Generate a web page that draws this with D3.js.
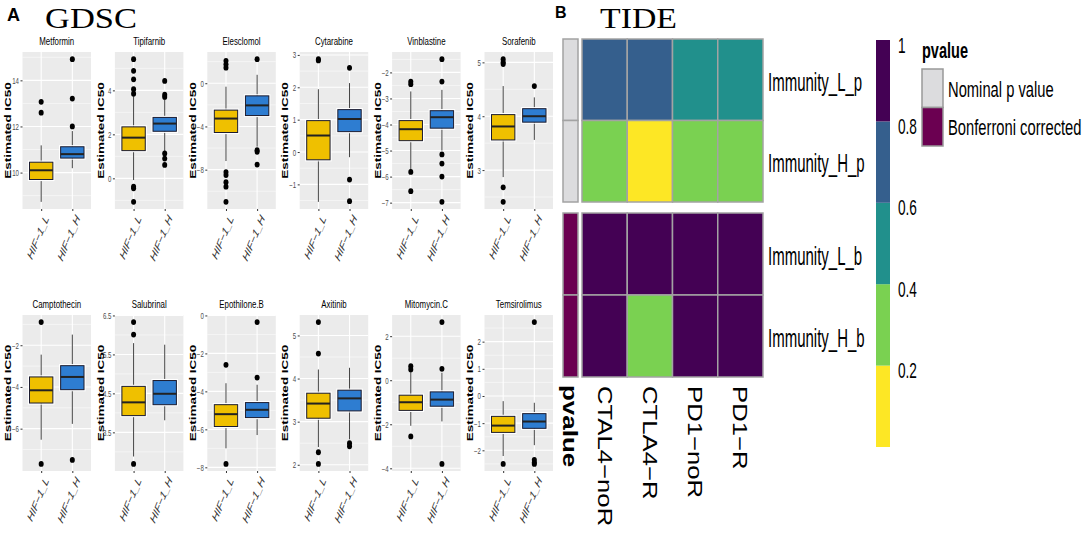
<!DOCTYPE html>
<html><head><meta charset="utf-8">
<script src="https://cdnjs.cloudflare.com/ajax/libs/d3/7.8.5/d3.min.js"></script>
<style>
html,body{margin:0;padding:0;background:#fff;}
svg{display:block;font-family:"Liberation Sans",Arial,sans-serif;}
</style></head>
<body>
<svg id="chart" width="1084" height="533"></svg>
<script>
// ---------- Panel A data (GDSC) ----------
const groups = ["HIF\u22121_L", "HIF\u22121_H"];
const drugs = ["Metformin","Tipifarnib","Elesclomol","Cytarabine","Vinblastine","Sorafenib",
               "Camptothecin","Salubrinal","Epothilone.B","Axitinib","Mitomycin.C","Temsirolimus"];
// [lower whisker, Q1, median, Q3, upper whisker]
const statsL = [
  [8.73, 9.70, 10.10, 10.45, 11.18],
  [-0.08, 1.26, 1.85, 2.34, 3.80],
  [-7.20, -4.56, -3.27, -2.49, -0.32],
  [-1.54, -0.24, 0.51, 0.97, 1.94],
  [-5.75, -4.62, -4.18, -3.85, -2.73],
  [2.87, 3.56, 3.81, 4.03, 4.56],
  [-6.53, -4.77, -4.16, -3.52, -2.45],
  [2.88, 3.93, 4.27, 4.68, 5.79],
  [-7.00, -5.85, -5.20, -4.70, -3.57],
  [2.41, 3.08, 3.42, 3.66, 4.21],
  [-2.07, -1.37, -1.00, -0.68, 0.41],
  [-2.21, -1.34, -1.09, -0.75, -0.19]
];
const statsH = [
  [10.19, 10.63, 10.80, 11.12, 11.80],
  [1.22, 2.14, 2.49, 2.77, 3.60],
  [-5.87, -2.99, -2.05, -1.17, 0.78],
  [-0.16, 0.63, 1.02, 1.31, 2.13],
  [-5.00, -4.14, -3.72, -3.47, -2.67],
  [3.56, 3.89, 4.00, 4.14, 4.35],
  [-5.77, -4.13, -3.52, -2.98, -1.49],
  [3.81, 4.21, 4.49, 4.83, 5.75],
  [-6.30, -5.38, -4.97, -4.59, -3.65],
  [2.59, 3.25, 3.54, 3.73, 4.25],
  [-1.87, -1.18, -0.88, -0.53, 0.34],
  [-1.81, -1.19, -0.94, -0.65, -0.25]
];
const outliersL = [
  [12.60, 13.07],
  [-0.38, -0.45, -1.07, 3.85, 4.05, 4.50, 4.89, 5.42],
  [2.07, 1.75, 1.44, -8.22, -8.50, -9.16, -9.57, -10.98],
  [2.83, 2.87],
  [-2.35, -2.45, -5.82, -6.56],
  [5.06, 4.97, 5.00, 2.68, 2.41],
  [-0.89, -7.69],
  [6.33, 6.01, 2.69],
  [-2.60, -7.82],
  [5.31, 4.58, 2.29, 2.02],
  [0.64, 0.49, -2.55],
  [-2.50]
];
const outliersH = [
  [12.00, 13.21, 14.92],
  [3.70, 3.80, 4.43, 1.13, 0.90, 0.61],
  [2.23, -6.20, -6.35, -7.53],
  [2.60, -0.85, -1.52],
  [-1.49, -2.35, -5.15, -5.50, -6.00, -6.97],
  [4.56],
  [-7.50],
  [],
  [-0.35, -3.27],
  [2.50, 2.43],
  [2.64, 0.52, -3.80],
  [2.72, -2.35, -2.45, -2.50]
];
const yTicks = [
  [10, 12, 14], [0, 2, 4], [-8, -4, 0], [-1, 0, 1, 2, 3], [-7, -6, -5, -4, -3, -2], [3, 4, 5],
  [-6, -4, -2], [3.5, 4.5, 5.5, 6.5], [-8, -6, -4, -2, 0], [2, 3, 4, 5], [-4, -2, 0, 2], [-2, -1, 0, 1, 2]
];
const groupColors = ["#EFC000", "#2E7DD1"];

// ---------- Panel B data (TIDE) ----------
const tideCols = ["CTAL4\u2212noR", "CTLA4\u2212R", "PD1\u2212noR", "PD1\u2212R"];
const tideRows = ["Immunity_L_p", "Immunity_H_p", "Immunity_L_b", "Immunity_H_b"];
const rowAnno = ["Nominal p value", "Nominal p value", "Bonferroni corrected", "Bonferroni corrected"];
const tideValues = [
  [0.70, 0.72, 0.50, 0.52],
  [0.30, 0.15, 0.32, 0.35],
  [1.00, 1.00, 1.00, 1.00],
  [1.00, 0.35, 1.00, 1.00]
];
const annoNames = ["Nominal p value", "Bonferroni corrected"];
const annoColors = ["#DCDCDE", "#6B0051"];
const legendBreaks = [0.2, 0.4, 0.6, 0.8];
const legendLabels = ["0.2", "0.4", "0.6", "0.8", "1"];
const binColors = ["#FDE725", "#7AD151", "#21908C", "#355F8D", "#440154"];

// ---------- drawing ----------
const svg = d3.select("#chart");
svg.append("rect").attr("width",1084).attr("height",533).attr("fill","#fff");
const SX = 0.716;

function sq(sel, x, y, sx, rot) {
  return sel.attr("x",0).attr("y",0)
    .attr("transform", `translate(${x},${y}) scale(${sx},1)` + (rot ? ` rotate(${rot})` : ""));
}

// Panel labels & titles
svg.append("text").attr("x",7).attr("y",21).attr("font-weight","bold").attr("font-size",18).text("A");
svg.append("text").attr("x",555).attr("y",18).attr("font-weight","bold").attr("font-size",16).text("B");
svg.append("text").attr("x",45).attr("y",27.5).attr("font-family","'Liberation Serif','Times New Roman',serif").attr("font-size",30).attr("textLength",92).attr("lengthAdjust","spacingAndGlyphs").text("GDSC");
svg.append("text").attr("x",600).attr("y",27.5).attr("font-family","'Liberation Serif','Times New Roman',serif").attr("font-size",30).attr("textLength",77).attr("lengthAdjust","spacingAndGlyphs").text("TIDE");

drugs.forEach((drug, i) => {
  const row = i < 6 ? 0 : 1, col = i % 6;
  const cellLeft = col * 92.4;
  const x0 = cellLeft + 22.5, x1 = cellLeft + 91;
  const y0 = row ? 315 : 52, y1 = row ? 471 : 209;
  const all = statsL[i].concat(statsH[i], outliersL[i], outliersH[i]);
  const [mn, mx] = d3.extent(all);
  const pad = (mx - mn) * 0.05;
  const y = d3.scaleLinear().domain([mn - pad, mx + pad]).range([y1, y0]);
  const x = d3.scalePoint().domain(groups).range([x0, x1]).padding(0.6);
  const bw = x.step() * 0.75;
  const g = svg.append("g");

  g.append("rect").attr("x",x0).attr("y",y0).attr("width",x1-x0).attr("height",y1-y0).attr("fill","#EBEBEB");
  // minor grid
  const ticks = yTicks[i];
  const step = ticks[1] - ticks[0];
  const minor = d3.range(ticks[0] - step/2, mx + pad + step, step).filter(v => v >= mn - pad && v <= mx + pad);
  g.selectAll(".mn").data(minor).join("line")
    .attr("x1",x0).attr("x2",x1).attr("y1",d=>y(d)).attr("y2",d=>y(d))
    .attr("stroke","#fff").attr("stroke-width",0.5);
  g.selectAll(".mj").data(ticks).join("line")
    .attr("x1",x0).attr("x2",x1).attr("y1",d=>y(d)).attr("y2",d=>y(d))
    .attr("stroke","#fff").attr("stroke-width",1.1);
  g.selectAll(".vg").data(groups).join("line")
    .attr("x1",d=>x(d)).attr("x2",d=>x(d)).attr("y1",y0).attr("y2",y1)
    .attr("stroke","#fff").attr("stroke-width",1.1);

  // boxes
  [statsL[i], statsH[i]].forEach((s, k) => {
    const cx = x(groups[k]);
    g.append("line").attr("x1",cx).attr("x2",cx).attr("y1",y(s[0])).attr("y2",y(s[1])).attr("stroke","#444").attr("stroke-width",1);
    g.append("line").attr("x1",cx).attr("x2",cx).attr("y1",y(s[3])).attr("y2",y(s[4])).attr("stroke","#444").attr("stroke-width",1);
    g.append("rect").attr("x",cx-bw/2-1).attr("y",y(s[3])-1).attr("width",bw+2).attr("height",y(s[1])-y(s[3])+2)
      .attr("fill","none").attr("stroke","#fff").attr("stroke-width",1.2);
    g.append("rect").attr("x",cx-bw/2).attr("y",y(s[3])).attr("width",bw).attr("height",y(s[1])-y(s[3]))
      .attr("fill",groupColors[k]).attr("stroke","#1c1c30").attr("stroke-width",1);
    g.append("line").attr("x1",cx-bw/2).attr("x2",cx+bw/2).attr("y1",y(s[2])).attr("y2",y(s[2]))
      .attr("stroke","#222").attr("stroke-width",2);
    const outs = k === 0 ? outliersL[i] : outliersH[i];
    g.selectAll(null).data(outs).join("ellipse")
      .attr("cx",cx).attr("cy",d=>y(d)).attr("rx",2.5).attr("ry",2.9).attr("fill","#000");
  });

  // y axis
  const ya = g.append("g").attr("transform",`translate(${x0},0)`)
    .call(d3.axisLeft(y).tickValues(ticks).tickSize(2).tickPadding(1).tickFormat(d3.format("")));
  ya.select(".domain").remove();
  ya.selectAll("line").attr("stroke","#333");
  ya.selectAll("text").each(function(){
    const t = d3.select(this);
    t.attr("fill","#4d4d4d").attr("font-size",8.5).attr("font-family",null).attr("dy","0.35em");
    sq(t, -3.5, 0, SX);
  });
  // x axis
  const xa = g.append("g").attr("transform",`translate(0,${y1})`)
    .call(d3.axisBottom(x).tickSize(2).tickPadding(2));
  xa.select(".domain").remove();
  xa.selectAll("line").attr("stroke","#333");
  xa.selectAll("text").each(function(){
    const t = d3.select(this);
    t.attr("fill","#333").attr("font-size",12.5).attr("font-style","italic").attr("font-family",null)
      .attr("text-anchor","end").attr("dy","0.72em");
    sq(t, 2, 5, SX, -60);
  });
  // title
  sq(g.append("text").attr("text-anchor","middle").attr("font-size",11).attr("fill","#000").text(drug),
     (x0+x1)/2, y0 - 7.5, SX);
  // y title
  sq(g.append("text").attr("text-anchor","middle").attr("font-size",13.5).attr("font-weight","bold")
       .attr("dominant-baseline","central").text("Estimated IC50"),
     cellLeft + 7.5, (y0+y1)/2, SX, -90);
});

// ---------- Panel B heatmap ----------
const color = d3.scaleThreshold().domain(legendBreaks).range(binColors);
const hx = d3.scaleBand().domain(tideCols).range([582, 763]);
const ax = d3.scaleBand().domain(["pvalue"]).range([563, 578]);
const annoColor = d3.scaleOrdinal().domain(annoNames).range(annoColors);
const blocks = [{rows:[0,1], y0:39, y1:202}, {rows:[2,3], y0:213, y1:377}];
const hb = svg.append("g");
blocks.forEach(b => {
  const yb = d3.scaleBand().domain(b.rows).range([b.y0, b.y1]);
  b.rows.forEach(r => {
    hb.selectAll(null).data(tideValues[r]).join("rect")
      .attr("x",(d,j)=>hx(tideCols[j])).attr("y",yb(r))
      .attr("width",hx.bandwidth()).attr("height",yb.bandwidth())
      .attr("fill",d=>color(d)).attr("stroke","#A3A3A3").attr("stroke-width",1.5);
    hb.append("rect").attr("x",ax("pvalue")).attr("y",yb(r)).attr("width",ax.bandwidth()).attr("height",yb.bandwidth())
      .attr("fill",annoColor(rowAnno[r])).attr("stroke","#A3A3A3").attr("stroke-width",1.5);
    sq(hb.append("text").attr("font-size",25).attr("fill","#000").text(tideRows[r]),
       768, yb(r) + yb.bandwidth()/2 + 11, 0.6);
  });
});
// column labels
tideCols.forEach(c => {
  sq(hb.append("text").attr("font-size",25.7).attr("dominant-baseline","central").attr("fill","#000").text(c),
     hx(c) + hx.bandwidth()/2, 386, 0.8, 90);
});
sq(hb.append("text").attr("font-size",26).attr("font-weight","bold").attr("dominant-baseline","central").text("pvalue"),
   ax("pvalue") + ax.bandwidth()/2, 385, 0.8, 90);

// colour legend
const yl = d3.scaleLinear().domain([0, 1]).range([447, 40]);
const binEdges = [0].concat(legendBreaks, [1]);
hb.selectAll(null).data(binColors).join("rect")
  .attr("x",876).attr("width",14)
  .attr("y",(d,k)=>yl(binEdges[k+1])).attr("height",(d,k)=>yl(binEdges[k]) - yl(binEdges[k+1]))
  .attr("fill",d=>d);
legendLabels.forEach((lab, k) => {
  sq(hb.append("text").attr("font-size",22).text(lab), 898, yl(binEdges[k+1]) + 12.5, 0.62);
});
// annotation legend
sq(hb.append("text").attr("font-size",22).attr("font-weight","bold").text("pvalue"), 922, 58, 0.66);
const la = d3.scaleBand().domain(annoNames).range([69, 146]);
annoNames.forEach(n => {
  hb.append("rect").attr("x",922).attr("y",la(n)).attr("width",21).attr("height",la.bandwidth())
    .attr("fill",annoColor(n)).attr("stroke","#999").attr("stroke-width",1.5);
  sq(hb.append("text").attr("font-size",22).text(n), 948, la(n) + la.bandwidth()/2 + 8.5, 0.67);
});
</script>
</body></html>
